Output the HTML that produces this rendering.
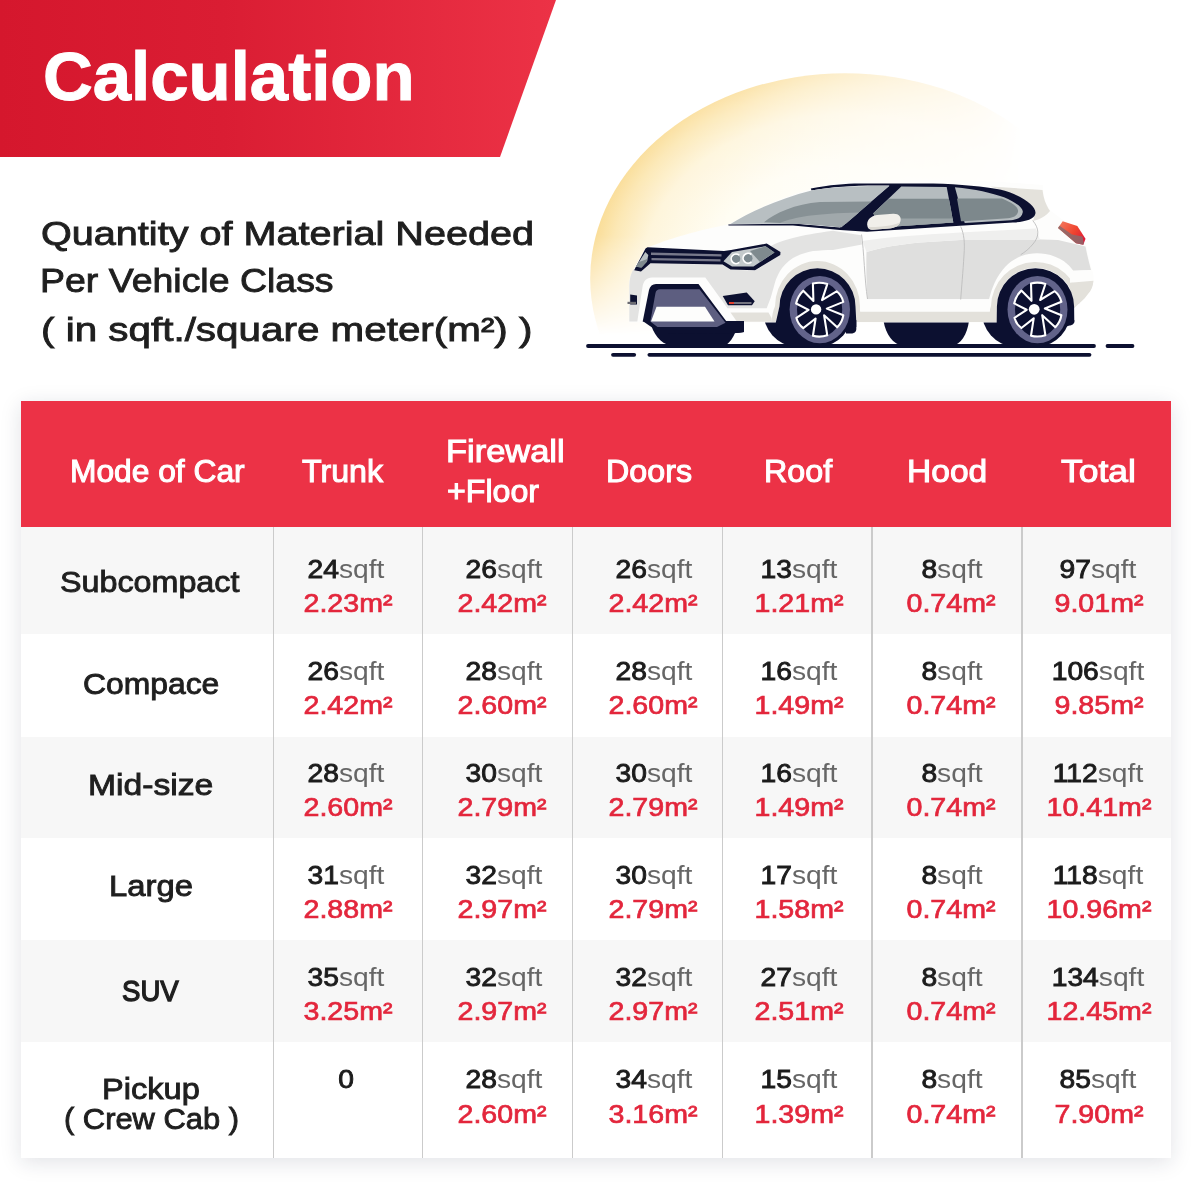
<!DOCTYPE html>
<html><head><meta charset="utf-8"><title>Calculation</title>
<style>
html,body{margin:0;padding:0;background:#fff;}
body{width:1200px;height:1200px;position:relative;overflow:hidden;font-family:"Liberation Sans",sans-serif;}
.t{position:absolute;white-space:nowrap;line-height:normal;transform-origin:0 0;display:block;}
.c{position:absolute;width:140px;text-align:center;white-space:nowrap;line-height:normal;transform-origin:50% 0;font-size:26px;display:block;}
.c b{font-weight:normal;color:#1c1c1c;-webkit-text-stroke:0.9px #1c1c1c;}
.c i{font-style:normal;font-weight:normal;color:#666;}
.c.m{color:#E3263C;-webkit-text-stroke:0.7px #E3263C;}
#banner{position:absolute;left:0;top:0;width:556px;height:157px;background:linear-gradient(90deg,#D5172D 0%,#DA1D33 40%,#EC3246 100%);clip-path:polygon(0 0,556px 0,500px 157px,0 157px);}
#shadow{position:absolute;left:21px;top:401px;width:1150px;height:757px;box-shadow:0 4px 20px rgba(20,30,60,0.13);background:#fff;}
#thead{position:absolute;left:21px;top:401px;width:1150px;height:126px;background:#EC3246;}
</style></head><body>
<div id="banner"></div>
<svg id="car" width="1200" height="400" viewBox="0 0 1200 400" style="position:absolute;left:0;top:0">
<defs>
  <radialGradient id="gl" gradientUnits="userSpaceOnUse" cx="0" cy="0" r="1" gradientTransform="translate(845,278.5) scale(254.8,205.3)">
    <stop offset="0" stop-color="#FFFFFC"/><stop offset="0.55" stop-color="#FFFCF0"/><stop offset="0.8" stop-color="#FEF4D8"/><stop offset="0.93" stop-color="#FCE7B2"/><stop offset="1" stop-color="#FADD98"/>
  </radialGradient>
  <linearGradient id="mh" gradientUnits="userSpaceOnUse" x1="588" y1="0" x2="1022" y2="0">
    <stop offset="0" stop-color="#fff"/><stop offset="0.35" stop-color="#d0d0d0"/><stop offset="0.7" stop-color="#555"/><stop offset="1" stop-color="#000"/>
  </linearGradient>
  <linearGradient id="mv" gradientUnits="userSpaceOnUse" x1="0" y1="235" x2="0" y2="335">
    <stop offset="0" stop-color="#000" stop-opacity="0"/><stop offset="1" stop-color="#000" stop-opacity="1"/>
  </linearGradient>
  <mask id="gm" maskUnits="userSpaceOnUse" x="560" y="60" width="560" height="300">
    <rect x="560" y="60" width="560" height="300" fill="url(#mh)"/>
    <rect x="560" y="60" width="560" height="300" fill="url(#mv)"/>
  </mask>
  <linearGradient id="tl" gradientUnits="userSpaceOnUse" x1="1060" y1="224" x2="1086" y2="242">
    <stop offset="0" stop-color="#F2745A"/><stop offset="0.5" stop-color="#F0452F"/><stop offset="1" stop-color="#DD1038"/>
  </linearGradient>
  <clipPath id="cpBody"><path d="M0,0H1200V323.5H0Z"/></clipPath>
  </defs>

<!-- glow -->
<ellipse cx="845" cy="278.5" rx="254.8" ry="205.3" fill="url(#gl)" mask="url(#gm)"/>

<!-- ground lines -->
<g stroke="#0C1030" stroke-width="3.8" stroke-linecap="round" fill="none">
  <path d="M588,346 H1094"/><path d="M1107.5,346 H1132.5"/>
  <path d="M613,354.8 H634.2"/><path d="M649.4,354.8 H1089.5"/>
</g>

<!-- tires & far wheels (behind body) -->
<g fill="#0C1030">
  <path d="M650,321 C653,334 660,343 671,346 L725,346 C730,342 733,338 735,333 L744,332 L744,321 Z"/>
  <path d="M883.5,321 C886,335 893,344 903,346 L952,346 C961,344 967,335 969,321 Z"/>
  <!-- front tire -->
  <ellipse cx="795.5" cy="309.8" rx="32.5" ry="36.4"/><ellipse cx="820" cy="309.8" rx="32.8" ry="36.4"/><rect x="795.5" y="300" width="24.5" height="46.2"/>
  <!-- rear tire -->
  <ellipse cx="1014" cy="309.8" rx="32.5" ry="36.4"/><ellipse cx="1038" cy="309.8" rx="32.8" ry="36.4"/><rect x="1014" y="300" width="24" height="46.2"/>
</g>

<!-- body silhouette -->
<path id="body" fill="#FDFDFC" d="M629,321.5 L629,286 C629,279 631,273 634,268.5 L645,248.8 C660,242 690,232 729,224.3 C750,211.5 780,198 811,189 C825,184.5 840,182.2 852,181.3 C900,178.6 980,179.6 1043,185 L1043.5,194.5 C1045,202 1048,207 1051,211 C1062,219 1078,231 1085.5,239 C1086.5,250 1090,262 1092.5,272 C1094,280 1093,288 1088,294 C1084,300 1078,304 1074,308 L1074,322.5 L629,322.5 Z"/>

<!-- shading -->
<g>
  <!-- rear quarter beige (C pillar area) -->
  <path fill="#E4E2DC" d="M990,186.5 L1042.5,190 L1043.5,196 C1045,203 1048,208 1050,211 C1046,216 1040,219.5 1033,221 C1038,212 1025,199 1000,189.5 Z"/>
  <!-- door + rear lower grey -->
  <path fill="#DFDFDE" d="M866.5,252 C880,247.5 900,244.5 920,242.5 L960,240 L1020,238.7 L1058,240 L1085.5,246.5 C1087,255 1089,262 1091,270 L1073.3,270.7 C1069,265 1066,263 1064,261.3 C1056,256 1047,253.3 1037,253.3 C1024,253.3 1013,258.5 1005.3,266.7 C1001,271.5 998,276 996,280 C993.5,285 992,289 990.7,293.3 L989,299.3 L867.5,299.3 C866.5,285 866,268 866.5,252 Z"/>
  <!-- mid band above door grey -->
  <path fill="#EFEFEE" d="M862.5,241 C880,238 900,236 960,232.5 L1036,228.5 L1040,240 L960,240 L920,242.5 C900,244.5 880,247.5 866.5,252 Z"/>
  <!-- bumper + fender grey -->
  <path fill="#E3E3E2" d="M633.3,269.6 L641.3,268.7 L650.7,263.3 L722.7,264.7 L730.7,269.6 L754.7,270.7 L780.3,255 L780.5,252 L771,246 C780,240.5 800,235 833,230.7 L861,235.3 L862,244.5 L833,250 C826,250 820,250.5 813,251 C805,252.5 798,255 793,258 C787,262 783,266 780,271 C777.5,275.5 776,279 775,282.5 L770.8,297.5 L766.7,308.3 L727.5,308.3 L705.3,277.6 L652,277.6 C646.5,277.6 643.5,281 642.5,287 L637.3,321.5 L629.3,321.5 L629.3,286 C629.3,279 631,273.5 633.3,269.6 Z"/>
  <!-- front lip beige -->
  <path fill="#E3E1DB" d="M730.5,312.5 L768.5,312.5 L771.5,318 L772,321.8 L737,321.8 Z"/>
  <!-- arch flares (beige) -->
  <path fill="#E3E1DB" d="M771.5,322 C772,316 773,311 775,306.3 A42.5,45.3 0 0 1 860,306.3 L860.5,312 L997,312 L997,322 L856,322 L855.5,306.3 A38,38 0 0 0 779.5,306.3 L775.8,322 Z"/>
  <path fill="#E3E1DB" d="M988,322 C988.5,315 989.5,310 991,306 A44.6,45.2 0 0 1 1080,303 L1074.5,306 A38.6,38.2 0 0 0 996.9,306.5 L996.7,322 Z"/>
  <!-- sill -->
  <path fill="#FDFDFC" d="M860,299.2 H990 V311.7 H860 Z"/>
  <path fill="#E3E1DB" d="M856,311.7 H997 V322 H856 Z"/>
  <!-- rear bumper -->
  <path fill="#FDFDFC" d="M1073.3,270.7 L1092.2,270 C1093.5,274 1094,278 1093.5,281 L1070,283 L1070,270.7 Z"/>
  <path fill="#E3E1DB" d="M1070,282.8 L1093.5,280.8 C1093,287 1091,291 1088,294 C1084,300 1078,304 1074.3,308 L1070,308 Z"/>
</g>

<!-- arch wells on top of body -->
<g fill="#0C1030">
  <path d="M775.8,322.6 L779.5,306.3 A38,38 0 0 1 855.5,306.3 L856.3,322.6 L856.3,327 L776.5,327 Z"/>
  <path d="M996.7,322.6 L996.9,306.5 A38.6,38.2 0 0 1 1074.1,306.5 L1074.3,322.6 L1066,327 L997,327 Z"/>
</g>
<path fill="#0C1030" d="M846,320 H856.3 V329 C856.3,332 854,333.5 851,333.5 H846 Z"/>
<path fill="#0C1030" d="M1064,320 H1074.3 V321 C1074.3,324 1072,325.5 1069,325.5 H1064 Z"/>

<!-- wheels -->
<g>
  <ellipse cx="819.8" cy="309.6" rx="30.2" ry="33.6" fill="#62638A"/>
  <ellipse cx="819.6" cy="309.5" rx="22.6" ry="27.6" fill="#0C1030"/>
  <g transform="translate(816.1,309.4)"><path d="M-3.2,-25.9 Q4.0,-27.8 11.2,-25.3 L5.9,-9.3 L20.5,-18.1 Q25.7,-14.0 27.2,-7.5 L10.7,-0.8 L27.2,5.9 Q26.1,13.0 21.1,17.9 L8,5.9 L11.2,25.9 Q4.0,28.3 -3.2,26.4 L-0.5,9.1 L-12.8,18.7 Q-18.1,14.8 -19.7,8.5 L-7.5,0.5 L-20,-5.9 Q-18.3,-13.5 -12.8,-18.7 L-2.7,-8.5 Z" fill="#0C1030" stroke="#fff" stroke-width="2.1" stroke-linejoin="round"/></g>
  <circle cx="816.1" cy="309.4" r="5.2" fill="#fff"/>
  <ellipse cx="1037.5" cy="309.6" rx="30" ry="33.6" fill="#62638A"/>
  <ellipse cx="1037.6" cy="309.5" rx="22.6" ry="27.6" fill="#0C1030"/>
  <g transform="translate(1034.2,309.3)"><path d="M-3.2,-25.9 Q4.0,-27.8 11.2,-25.3 L5.9,-9.3 L20.5,-18.1 Q25.7,-14.0 27.2,-7.5 L10.7,-0.8 L27.2,5.9 Q26.1,13.0 21.1,17.9 L8,5.9 L11.2,25.9 Q4.0,28.3 -3.2,26.4 L-0.5,9.1 L-12.8,18.7 Q-18.1,14.8 -19.7,8.5 L-7.5,0.5 L-20,-5.9 Q-18.3,-13.5 -12.8,-18.7 L-2.7,-8.5 Z" fill="#0C1030" stroke="#fff" stroke-width="2.1" stroke-linejoin="round"/></g>
  <circle cx="1034.2" cy="309.3" r="5.4" fill="#fff"/>
</g>

<!-- intake / skid -->
<path fill="#0C1030" d="M656,284 L698.5,284 L726.5,321.5 L744,322 L744,332 L735,333 L651,322.5 L642.7,321.5 L649,290 C650,286 652.5,284 656,284 Z"/>
<path fill="#0C1030" d="M642.7,321 L744,321 L744,332 L734,333.2 L660,333 Z"/>
<path fill="#5D5E80" d="M660,289.3 L699.5,289.3 L725.5,322.7 L717,327 L657.5,327 L650.3,321.5 L655.5,293 C656,290.5 657.5,289.3 660,289.3 Z"/>
<path fill="#FDFDFC" d="M656.5,306.7 L705,306.7 L714.5,321.5 L651,321.5 Z"/>

<!-- grille -->
<path fill="#0C1030" d="M645.5,248.6 L647.5,247.3 L724,251 L731,250 L766.7,243.6 L780.5,252 L780.3,255 L755,270.3 L730.5,269.5 L722.5,264.5 L650.5,263.2 L641,271.5 L634.2,270.3 L635.5,267.5 Z"/>
<path fill="#77788A" d="M651,252.6 L721.5,254.2 L721.5,256.5 L651,255 Z"/>
<path fill="#77788A" d="M651.5,257.9 L720.5,259.2 L720.5,261.5 L651.5,260.3 Z"/>
<!-- left headlight -->
<path fill="#B9C0C3" d="M645.3,252 L648.3,255 L647,261.5 L641.5,267.5 L636,266.8 Z"/>
<path fill="#7F8A8E" d="M639,262 L647.4,259 L647,261.5 L641.5,267.5 L636,266.8 Z"/>
<!-- right headlight -->
<path fill="#C3C9CB" d="M723.5,261.2 L732,252 L765.5,246.2 L774.5,252.5 L753.5,266.5 L732,266.5 Z"/>
<path fill="#7F8A8E" d="M750,251 L765.5,246.2 L774.5,252.5 L760,262 Z"/>
<circle cx="736" cy="258.8" r="4.3" fill="#7D8A90"/><path d="M739.2,255.2 A4.8,4.8 0 1 0 739.2,262.4" fill="none" stroke="#fff" stroke-width="1.7"/>
<circle cx="748" cy="258.2" r="4.5" fill="#7D8A90"/><path d="M751.4,254.5 A5,5 0 1 0 751.4,262" fill="none" stroke="#fff" stroke-width="1.7"/>
<!-- fog lights -->
<path fill="#0C1030" d="M722.7,296 L746.7,292.6 L754.7,301.3 L752,305.3 L728,305.3 Z"/>
<path fill="#73737F" d="M729,302 H751.5 V304 H729 Z"/><path fill="#E2402F" d="M729,302 H734 V304 H729 Z"/>
<path fill="#0C1030" d="M630.2,294.5 L637,295.5 L637,304.5 L630.2,304.5 Z"/>
<path fill="#6b6b72" d="M627.5,301.8 H636 V304 H627.5 Z"/>

<!-- greenhouse: dark frame -->
<path fill="#0C1030" d="M728.3,224.6 L793,223.6 L840,227.4 L889.5,185.6 C860,185 835,186.3 811.5,190.4 L810.8,188.6 C830,184.8 845,183.8 860,183.6 L933,183.4 C960,184 985,186.5 1000,189.6 C1021,194.5 1037.5,206.5 1035.3,214 C1034,219.5 1025,221.8 1013,222.6 L960,225.7 L867,231.7 L840,230 L793,225.6 L728.5,225.4 Z"/>
<!-- windshield glass -->
<path fill="#B8BFC2" d="M730.5,223.9 C752,210.6 781,198.2 811.5,190.4 C835,186.6 860,185.7 889.3,186 L841.5,227.3 C822,225.2 802,223.8 793,223.7 Z"/>
<path fill="#879195" d="M764,222.2 C775,213 795,204 820,202 L871.5,201.4 L846,223.5 L840.5,227 C822,225 802,223.6 793,223.5 Z"/>
<path fill="#A0A8AB" d="M780,222.8 C795,217 815,213.5 859,212.5 L846,223.5 L840.5,227 C822,225 802,223.6 793,223.5 Z"/>
<!-- front door window -->
<path fill="#B5BCBF" d="M901.3,186.4 L946.7,187 L953.3,222.6 L880,227.6 L873.3,213.3 Z"/>
<path fill="#7D888C" d="M889,198.8 L948.9,198.8 L953.3,222.6 L880,227.6 L873.3,213.3 Z"/>
<path fill="#9AA3A6" d="M874,218.6 L952.6,218.6 L953.3,222.6 L880,227.6 Z"/>
<!-- rear window -->
<path fill="#B5BCBF" d="M954.9,187.2 C975,189 992,193 1004,197.3 C1015,202 1024,208 1022.7,212.5 C1022,217 1018,219.7 1011,220.2 L964.7,223 Z"/>
<path fill="#7D888C" d="M957,198.6 L1002,198.6 C1013,203 1019,208 1018,212 C1017,216 1013,217.8 1008,218.2 L964,221.2 L961,221.2 Z"/>
<!-- mirror -->
<path fill="#F1EFEA" d="M867.5,226.5 C866,221 870,216 877,215 L893,213.8 C899,213.5 901.5,217 900.5,221 C899.5,225.5 895,228 889,228.5 L873,229.8 C870,230 868,228.8 867.5,226.5 Z"/>
<path fill="#DDDAD3" d="M868.5,227 C876,227.5 890,226.5 900,222.5 C899,226 895,228 889,228.5 L873,229.8 C870.5,230 869,229 868.5,227 Z"/>
<!-- seams -->
<g fill="none" stroke="#BDBDBD" stroke-width="0.9">
  <path d="M861.5,234.5 C864,250 864.5,280 867.5,299"/>
  <path d="M960.7,226.5 C964,234 965,242 964,255 C963,272 961.5,288 960.7,299.5"/>
  <path d="M1032.7,220.5 C1039,228 1040,236 1033,244 C1029,249 1025,252 1020.7,254.7"/>
</g>
<!-- tail light -->
<path fill="url(#tl)" d="M1058,228 L1062.7,221.3 L1077.3,226 L1085.5,238.7 L1083.3,244.8 L1076,243.3 Z"/>
<path fill="#8A6A6C" opacity="0.85" d="M1058,228 L1059.5,225.8 L1072,234.5 L1082.5,236.5 L1083.8,243.5 L1083.3,244.8 L1076,243.3 Z"/>
</svg>

<div id="shadow"></div>
<div id="thead"></div>
<div style="position:absolute;left:21px;width:1150px;top:527px;height:107px;background:#f7f7f7"></div><div style="position:absolute;left:21px;width:1150px;top:634px;height:103px;background:#ffffff"></div><div style="position:absolute;left:21px;width:1150px;top:737px;height:101px;background:#f7f7f7"></div><div style="position:absolute;left:21px;width:1150px;top:838px;height:102px;background:#ffffff"></div><div style="position:absolute;left:21px;width:1150px;top:940px;height:102px;background:#f7f7f7"></div><div style="position:absolute;left:21px;width:1150px;top:1042px;height:116px;background:#ffffff"></div><div style="position:absolute;left:272.80px;width:1.4px;top:527px;height:631px;background:#cbcbcb"></div><div style="position:absolute;left:422.00px;width:1.4px;top:527px;height:631px;background:#cbcbcb"></div><div style="position:absolute;left:572.00px;width:1.4px;top:527px;height:631px;background:#cbcbcb"></div><div style="position:absolute;left:721.50px;width:1.4px;top:527px;height:631px;background:#cbcbcb"></div><div style="position:absolute;left:871.40px;width:1.4px;top:527px;height:631px;background:#cbcbcb"></div><div style="position:absolute;left:1021.40px;width:1.4px;top:527px;height:631px;background:#cbcbcb"></div>
<span class="t" style="left:42.85px;top:37.46px;font-size:68px;font-weight:bold;color:#fff;transform:scaleX(1.0136);-webkit-text-stroke:1.0px #fff;">Calculation</span><span class="t" style="left:41.14px;top:214.23px;font-size:34px;font-weight:normal;color:#1f1f1f;transform:scaleX(1.1647);-webkit-text-stroke:0.9px #1f1f1f;">Quantity of Material Needed</span><span class="t" style="left:40.07px;top:261.23px;font-size:34px;font-weight:normal;color:#1f1f1f;transform:scaleX(1.1019);-webkit-text-stroke:0.9px #1f1f1f;">Per Vehicle Class</span><span class="t" style="left:41.11px;top:309.73px;font-size:34px;font-weight:normal;color:#1f1f1f;transform:scaleX(1.1879);-webkit-text-stroke:0.9px #1f1f1f;">( in sqft./square meter(m²) )</span><span class="t" style="left:69.52px;top:454.40px;font-size:30.5px;font-weight:normal;color:#fff;transform:scaleX(1.0406);-webkit-text-stroke:1.0px #fff;">Mode of Car</span><span class="t" style="left:301.50px;top:454.40px;font-size:30.5px;font-weight:normal;color:#fff;transform:scaleX(1.0543);-webkit-text-stroke:1.0px #fff;">Trunk</span><span class="t" style="left:446.31px;top:434.40px;font-size:30.5px;font-weight:normal;color:#fff;transform:scaleX(1.1294);-webkit-text-stroke:1.0px #fff;">Firewall</span><span class="t" style="left:446.69px;top:473.60px;font-size:30.5px;font-weight:normal;color:#fff;transform:scaleX(1.0534);-webkit-text-stroke:1.0px #fff;">+Floor</span><span class="t" style="left:606.48px;top:454.40px;font-size:30.5px;font-weight:normal;color:#fff;transform:scaleX(1.0574);-webkit-text-stroke:1.0px #fff;">Doors</span><span class="t" style="left:764.48px;top:454.40px;font-size:30.5px;font-weight:normal;color:#fff;transform:scaleX(1.0572);-webkit-text-stroke:1.0px #fff;">Roof</span><span class="t" style="left:906.98px;top:454.40px;font-size:30.5px;font-weight:normal;color:#fff;transform:scaleX(1.1000);-webkit-text-stroke:1.0px #fff;">Hood</span><span class="t" style="left:1060.95px;top:454.40px;font-size:30.5px;font-weight:normal;color:#fff;transform:scaleX(1.1624);-webkit-text-stroke:1.0px #fff;">Total</span><span class="t" style="left:60.49px;top:564.85px;font-size:30px;font-weight:normal;color:#1f1f1f;transform:scaleX(1.0758);-webkit-text-stroke:0.9px #1f1f1f;">Subcompact</span><span class="t" style="left:83.01px;top:666.55px;font-size:30px;font-weight:normal;color:#1f1f1f;transform:scaleX(1.0614);-webkit-text-stroke:0.9px #1f1f1f;">Compace</span><span class="t" style="left:88.07px;top:767.55px;font-size:30px;font-weight:normal;color:#1f1f1f;transform:scaleX(1.1219);-webkit-text-stroke:0.9px #1f1f1f;">Mid-size</span><span class="t" style="left:108.64px;top:869.35px;font-size:30px;font-weight:normal;color:#1f1f1f;transform:scaleX(1.0934);-webkit-text-stroke:0.9px #1f1f1f;">Large</span><span class="t" style="left:121.54px;top:973.85px;font-size:30px;font-weight:normal;color:#1f1f1f;transform:scaleX(0.9196);-webkit-text-stroke:1.35px #1f1f1f;">SUV</span><span class="t" style="left:101.66px;top:1071.55px;font-size:30px;font-weight:normal;color:#1f1f1f;transform:scaleX(1.0857);-webkit-text-stroke:0.9px #1f1f1f;">Pickup</span><span class="t" style="left:64.05px;top:1101.65px;font-size:30px;font-weight:normal;color:#1f1f1f;transform:scaleX(1.0289);-webkit-text-stroke:0.9px #1f1f1f;">( Crew Cab )</span>
<span class="c" style="left:275.50px;top:554.47px;transform:scaleX(1.0858)"><b>24</b><i>sqft</i></span><span class="c m" style="left:278.25px;top:588.47px;transform:scaleX(1.0996)">2.23m²</span><span class="c" style="left:434.25px;top:554.47px;transform:scaleX(1.0858)"><b>26</b><i>sqft</i></span><span class="c m" style="left:432.00px;top:588.47px;transform:scaleX(1.0996)">2.42m²</span><span class="c" style="left:583.50px;top:554.47px;transform:scaleX(1.0858)"><b>26</b><i>sqft</i></span><span class="c m" style="left:583.00px;top:588.47px;transform:scaleX(1.0996)">2.42m²</span><span class="c" style="left:728.60px;top:554.47px;transform:scaleX(1.0858)"><b>13</b><i>sqft</i></span><span class="c m" style="left:729.00px;top:588.47px;transform:scaleX(1.0996)">1.21m²</span><span class="c" style="left:881.50px;top:554.47px;transform:scaleX(1.0858)"><b>8</b><i>sqft</i></span><span class="c m" style="left:881.40px;top:588.47px;transform:scaleX(1.0996)">0.74m²</span><span class="c" style="left:1027.60px;top:554.47px;transform:scaleX(1.0858)"><b>97</b><i>sqft</i></span><span class="c m" style="left:1028.60px;top:588.47px;transform:scaleX(1.0996)">9.01m²</span><span class="c" style="left:275.50px;top:656.47px;transform:scaleX(1.0858)"><b>26</b><i>sqft</i></span><span class="c m" style="left:278.25px;top:690.47px;transform:scaleX(1.0996)">2.42m²</span><span class="c" style="left:434.25px;top:656.47px;transform:scaleX(1.0858)"><b>28</b><i>sqft</i></span><span class="c m" style="left:432.00px;top:690.47px;transform:scaleX(1.0996)">2.60m²</span><span class="c" style="left:583.50px;top:656.47px;transform:scaleX(1.0858)"><b>28</b><i>sqft</i></span><span class="c m" style="left:583.00px;top:690.47px;transform:scaleX(1.0996)">2.60m²</span><span class="c" style="left:728.60px;top:656.47px;transform:scaleX(1.0858)"><b>16</b><i>sqft</i></span><span class="c m" style="left:729.00px;top:690.47px;transform:scaleX(1.0996)">1.49m²</span><span class="c" style="left:881.50px;top:656.47px;transform:scaleX(1.0858)"><b>8</b><i>sqft</i></span><span class="c m" style="left:881.40px;top:690.47px;transform:scaleX(1.0996)">0.74m²</span><span class="c" style="left:1027.60px;top:656.47px;transform:scaleX(1.0858)"><b>106</b><i>sqft</i></span><span class="c m" style="left:1028.60px;top:690.47px;transform:scaleX(1.0996)">9.85m²</span><span class="c" style="left:275.50px;top:758.47px;transform:scaleX(1.0858)"><b>28</b><i>sqft</i></span><span class="c m" style="left:278.25px;top:792.47px;transform:scaleX(1.0996)">2.60m²</span><span class="c" style="left:434.25px;top:758.47px;transform:scaleX(1.0858)"><b>30</b><i>sqft</i></span><span class="c m" style="left:432.00px;top:792.47px;transform:scaleX(1.0996)">2.79m²</span><span class="c" style="left:583.50px;top:758.47px;transform:scaleX(1.0858)"><b>30</b><i>sqft</i></span><span class="c m" style="left:583.00px;top:792.47px;transform:scaleX(1.0996)">2.79m²</span><span class="c" style="left:728.60px;top:758.47px;transform:scaleX(1.0858)"><b>16</b><i>sqft</i></span><span class="c m" style="left:729.00px;top:792.47px;transform:scaleX(1.0996)">1.49m²</span><span class="c" style="left:881.50px;top:758.47px;transform:scaleX(1.0858)"><b>8</b><i>sqft</i></span><span class="c m" style="left:881.40px;top:792.47px;transform:scaleX(1.0996)">0.74m²</span><span class="c" style="left:1027.60px;top:758.47px;transform:scaleX(1.0858)"><b>112</b><i>sqft</i></span><span class="c m" style="left:1028.60px;top:792.47px;transform:scaleX(1.0996)">10.41m²</span><span class="c" style="left:275.50px;top:860.47px;transform:scaleX(1.0858)"><b>31</b><i>sqft</i></span><span class="c m" style="left:278.25px;top:894.47px;transform:scaleX(1.0996)">2.88m²</span><span class="c" style="left:434.25px;top:860.47px;transform:scaleX(1.0858)"><b>32</b><i>sqft</i></span><span class="c m" style="left:432.00px;top:894.47px;transform:scaleX(1.0996)">2.97m²</span><span class="c" style="left:583.50px;top:860.47px;transform:scaleX(1.0858)"><b>30</b><i>sqft</i></span><span class="c m" style="left:583.00px;top:894.47px;transform:scaleX(1.0996)">2.79m²</span><span class="c" style="left:728.60px;top:860.47px;transform:scaleX(1.0858)"><b>17</b><i>sqft</i></span><span class="c m" style="left:729.00px;top:894.47px;transform:scaleX(1.0996)">1.58m²</span><span class="c" style="left:881.50px;top:860.47px;transform:scaleX(1.0858)"><b>8</b><i>sqft</i></span><span class="c m" style="left:881.40px;top:894.47px;transform:scaleX(1.0996)">0.74m²</span><span class="c" style="left:1027.60px;top:860.47px;transform:scaleX(1.0858)"><b>118</b><i>sqft</i></span><span class="c m" style="left:1028.60px;top:894.47px;transform:scaleX(1.0996)">10.96m²</span><span class="c" style="left:275.50px;top:962.17px;transform:scaleX(1.0858)"><b>35</b><i>sqft</i></span><span class="c m" style="left:278.25px;top:996.47px;transform:scaleX(1.0996)">3.25m²</span><span class="c" style="left:434.25px;top:962.17px;transform:scaleX(1.0858)"><b>32</b><i>sqft</i></span><span class="c m" style="left:432.00px;top:996.47px;transform:scaleX(1.0996)">2.97m²</span><span class="c" style="left:583.50px;top:962.17px;transform:scaleX(1.0858)"><b>32</b><i>sqft</i></span><span class="c m" style="left:583.00px;top:996.47px;transform:scaleX(1.0996)">2.97m²</span><span class="c" style="left:728.60px;top:962.17px;transform:scaleX(1.0858)"><b>27</b><i>sqft</i></span><span class="c m" style="left:729.00px;top:996.47px;transform:scaleX(1.0996)">2.51m²</span><span class="c" style="left:881.50px;top:962.17px;transform:scaleX(1.0858)"><b>8</b><i>sqft</i></span><span class="c m" style="left:881.40px;top:996.47px;transform:scaleX(1.0996)">0.74m²</span><span class="c" style="left:1027.60px;top:962.17px;transform:scaleX(1.0858)"><b>134</b><i>sqft</i></span><span class="c m" style="left:1028.60px;top:996.47px;transform:scaleX(1.0996)">12.45m²</span><span class="c" style="left:275.50px;top:1064.47px;transform:scaleX(1.0858)"><b>0</b></span><span class="c" style="left:434.25px;top:1064.47px;transform:scaleX(1.0858)"><b>28</b><i>sqft</i></span><span class="c m" style="left:432.00px;top:1098.77px;transform:scaleX(1.0996)">2.60m²</span><span class="c" style="left:583.50px;top:1064.47px;transform:scaleX(1.0858)"><b>34</b><i>sqft</i></span><span class="c m" style="left:583.00px;top:1098.77px;transform:scaleX(1.0996)">3.16m²</span><span class="c" style="left:728.60px;top:1064.47px;transform:scaleX(1.0858)"><b>15</b><i>sqft</i></span><span class="c m" style="left:729.00px;top:1098.77px;transform:scaleX(1.0996)">1.39m²</span><span class="c" style="left:881.50px;top:1064.47px;transform:scaleX(1.0858)"><b>8</b><i>sqft</i></span><span class="c m" style="left:881.40px;top:1098.77px;transform:scaleX(1.0996)">0.74m²</span><span class="c" style="left:1027.60px;top:1064.47px;transform:scaleX(1.0858)"><b>85</b><i>sqft</i></span><span class="c m" style="left:1028.60px;top:1098.77px;transform:scaleX(1.0996)">7.90m²</span>
</body></html>
